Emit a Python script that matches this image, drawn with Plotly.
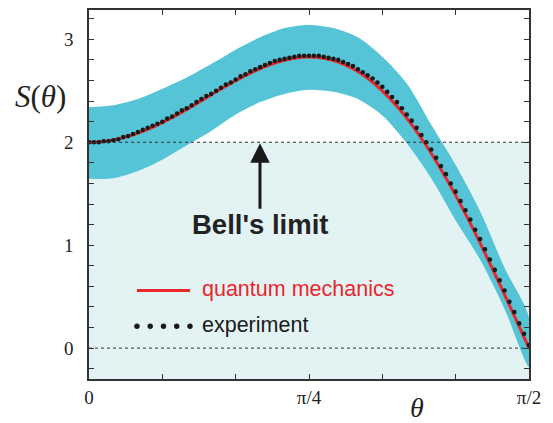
import math
import plotly.graph_objects as go

# ---------------- data ----------------
# angles in degrees
qm_deg = list(range(0, 91, 3))
qm_S = [2.000, 2.008, 2.033, 2.072, 2.125, 2.191, 2.265, 2.347, 2.432, 2.517,
        2.598, 2.672, 2.736, 2.785, 2.817, 2.828, 2.816, 2.779, 2.714, 2.622,
        2.500, 2.350, 2.171, 1.966, 1.736, 1.484, 1.212, 0.923, 0.623, 0.313,
        0.000]

exp_deg = list(range(0, 91))
exp_S = [2.00, 2.00, 2.00, 2.01, 2.01, 2.02, 2.03, 2.05, 2.06, 2.08,
         2.10, 2.12, 2.14, 2.16, 2.18, 2.20, 2.23, 2.25, 2.28, 2.31,
         2.33, 2.36, 2.39, 2.42, 2.45, 2.47, 2.50, 2.53, 2.56, 2.58,
         2.61, 2.64, 2.66, 2.69, 2.71, 2.73, 2.75, 2.77, 2.79, 2.80,
         2.81, 2.82, 2.83, 2.84, 2.84, 2.84, 2.84, 2.84, 2.83, 2.82,
         2.81, 2.80, 2.78, 2.76, 2.74, 2.71, 2.68, 2.65, 2.62, 2.58,
         2.54, 2.49, 2.44, 2.39, 2.33, 2.27, 2.21, 2.14, 2.07, 2.00,
         1.93, 1.85, 1.77, 1.69, 1.60, 1.52, 1.43, 1.34, 1.25, 1.15,
         1.06, 0.96, 0.86, 0.76, 0.66, 0.56, 0.45, 0.35, 0.24, 0.14,
         0.03]

band_deg = list(range(0, 91, 5))
band_upper = [2.34, 2.36, 2.42, 2.52, 2.63, 2.76, 2.90, 3.02, 3.11, 3.14,
              3.11, 3.02, 2.83, 2.57, 2.17, 1.78, 1.33, 0.78, 0.30]
band_lower = [1.645, 1.65, 1.72, 1.83, 1.97, 2.11, 2.27, 2.39, 2.47, 2.51,
              2.49, 2.42, 2.26, 1.99, 1.65, 1.24, 0.86, 0.38, -0.18]

bell_limit = 2.0
zero_line = 0.0

x_tick_deg = [0, 15, 30, 45, 60, 75, 90]
x_tick_text = ["0", "", "", "π/4", "", "", "π/2"]
y_tick_vals = [round(-0.2 + 0.2 * i, 1) for i in range(18)]
y_tick_text = [str(int(v)) if abs(v - round(v)) < 1e-9 else "" for v in y_tick_vals]

def rad(ds):
    return [d * math.pi / 180 for d in ds]

# ---------------- figure ----------------
BAND = "#54c4d6"
RED = "#e8262b"
SHADE = "#e3f3f4"
FRAME = "#333333"
SERIF = "Liberation Serif"
SANS = "Liberation Sans"

fig = go.Figure()

bx = rad(band_deg)
fig.add_trace(go.Scatter(
    x=bx + bx[::-1], y=band_upper + band_lower[::-1],
    mode="lines", fill="toself", fillcolor=BAND,
    line=dict(color=BAND, width=0, shape="spline", smoothing=0.8),
    hoverinfo="skip", showlegend=False))

fig.add_trace(go.Scatter(
    x=rad(qm_deg), y=qm_S, mode="lines",
    line=dict(color=RED, width=3, shape="spline"),
    name="quantum mechanics", showlegend=False))

fig.add_trace(go.Scatter(
    x=rad(exp_deg), y=exp_S, mode="markers",
    marker=dict(color="#1a1a1a", size=4.6),
    name="experiment", showlegend=False))

shapes = [
    # region below Bell's limit
    dict(type="rect", xref="x domain", yref="y", x0=0, x1=1, y0=-0.3, y1=bell_limit,
         fillcolor=SHADE, line=dict(width=0), layer="below"),
    dict(type="line", xref="x domain", yref="y", x0=0, x1=1, y0=bell_limit, y1=bell_limit,
         line=dict(color=FRAME, width=1, dash="dot"), layer="above"),
    dict(type="line", xref="x domain", yref="y", x0=0, x1=1, y0=zero_line, y1=zero_line,
         line=dict(color=FRAME, width=1, dash="dot"), layer="above"),
    # legend keys
    dict(type="line", xref="paper", yref="paper", x0=0.109, x1=0.2295, y0=0.240, y1=0.240,
         line=dict(color=RED, width=3)),
]
for i in range(5):
    cx = 0.109 + i * (0.2295 - 0.109) / 4
    shapes.append(dict(type="circle", xref="paper", yref="paper",
                       xsizemode="pixel", ysizemode="pixel",
                       xanchor=cx, yanchor=0.143, x0=-2.7, x1=2.7, y0=-2.7, y1=2.7,
                       fillcolor="#1a1a1a", line=dict(width=0)))

annotations = [
    dict(text="quantum mechanics", xref="paper", yref="paper", x=0.252, y=0.244,
         xanchor="left", yanchor="middle", showarrow=False,
         font=dict(family=SANS, size=21.5, color=RED)),
    dict(text="experiment", xref="paper", yref="paper", x=0.252, y=0.147,
         xanchor="left", yanchor="middle", showarrow=False,
         font=dict(family=SANS, size=21.5, color="#1a1a1a")),
    dict(text="<b>Bell's limit</b>", xref="paper", yref="paper", x=0.3886, y=0.418,
         xanchor="center", yanchor="middle", showarrow=False,
         font=dict(family=SANS, size=27.5, color="#222222")),
    dict(text="", xref="paper", yref="y", x=0.3886, y=bell_limit, ax=0, ay=68,
         showarrow=True, arrowhead=2, arrowsize=1.3, arrowwidth=3, arrowcolor="#1a1a1a",
         standoff=1),
    dict(text="<i>S</i>(<i>θ</i>)", xref="paper", yref="paper", x=-0.111, y=0.765,
         xanchor="center", yanchor="middle", showarrow=False,
         font=dict(family=SERIF, size=31, color="#222222")),
    dict(text="<i>θ</i>", xref="paper", yref="paper", x=0.745, y=-0.076,
         xanchor="center", yanchor="middle", showarrow=False,
         font=dict(family=SERIF, size=28, color="#222222")),
]

# the page has an 8px body margin, so the figure is sized to fit the window
fig.update_layout(
    width=545, height=415,
    margin=dict(l=81, r=24, t=0, b=44),
    paper_bgcolor="white", plot_bgcolor="white",
    shapes=shapes, annotations=annotations, showlegend=False,
)
fig.update_xaxes(
    range=[0, math.pi / 2], tickvals=rad(x_tick_deg), ticktext=x_tick_text,
    ticks="inside", ticklen=5, tickwidth=1.2, tickcolor=FRAME,
    showline=True, linecolor=FRAME, linewidth=1.5, mirror="ticks",
    showgrid=False, zeroline=False, ticklabelstandoff=0,
    tickfont=dict(family=SERIF, size=19, color="#222222"),
)
fig.update_yaxes(
    range=[-0.3, 3.285], tickvals=y_tick_vals, ticktext=y_tick_text,
    ticks="inside", ticklen=5, tickwidth=1.2, tickcolor=FRAME,
    showline=True, linecolor=FRAME, linewidth=1.5, mirror="ticks",
    showgrid=False, zeroline=False, ticklabelstandoff=10,
    tickfont=dict(family=SERIF, size=19, color="#222222"),
)

fig.write_html("out.html")
